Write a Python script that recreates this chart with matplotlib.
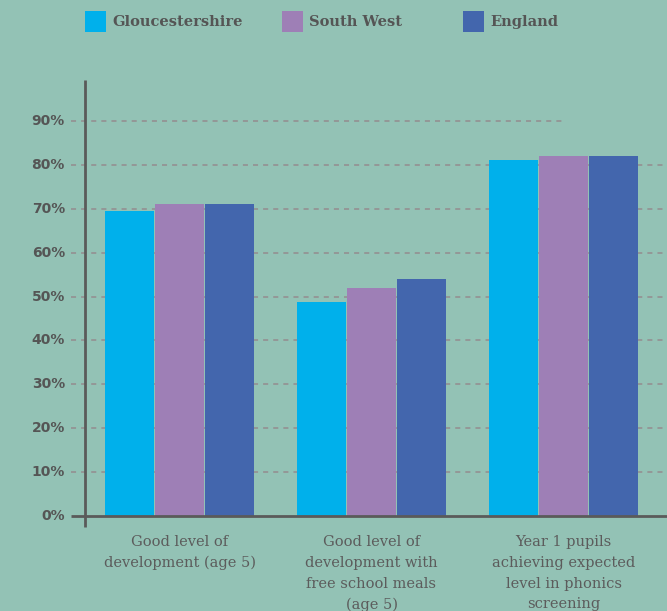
import matplotlib
matplotlib.use("Agg")
import matplotlib.pyplot as plt
from matplotlib.patches import Rectangle
import numpy as np

categories = ["Good level of\ndevelopment (age 5)",
              "Good level of\ndevelopment with\nfree school meals\n(age 5)",
              "Year 1 pupils\nachieving expected\nlevel in phonics\nscreening"]
series_names = ["Gloucestershire", "South West", "England"]
gloucestershire = [69.5, 48.7, 81]
south_west = [71, 52, 82]
england = [71, 54, 82]
yticks = [0, 10, 20, 30, 40, 50, 60, 70, 80, 90]
ytick_labels = [f"{v}%" for v in yticks]

colors = ["#00B0EB", "#9E7FB6", "#4366AD"]
bg = "#93C2B5"
textc = "#555555"
axc = "#5a5a5a"

W, H = 667, 611
fig = plt.figure(figsize=(W/100, H/100), dpi=100, facecolor=bg)
ax_left, ax_right, ax_bottom, ax_top = 85, 667, 516, 77
aw = ax_right - ax_left
ah = ax_bottom - ax_top
ax = fig.add_axes([ax_left/W, 1-ax_bottom/H, aw/W, ah/H])
ax.set_facecolor(bg)

x = np.arange(len(categories))
bw = 50/192
for i, (vals, c) in enumerate(zip([gloucestershire, south_west, england], colors)):
    ax.bar(x + (i-1)*bw, vals, width=bw*0.985, color=c, zorder=3, linewidth=0)

xmin = -(179.5-85)/192
xmax = xmin + aw/192
ax.set_xlim(xmin, xmax)
ax.set_ylim(0, 100)

for sp in ax.spines.values():
    sp.set_visible(False)
ax.set_xticks([])
ax.set_yticks([])

# gridlines (extend left of axis)
ext = -(85-71)/aw
for v in yticks[1:]:
    xe = 1.0 if v != 90 else (563-85)/aw
    ax.plot([ext, xe], [v, v], transform=ax.get_yaxis_transform(), color="#949494",
            lw=1.3, ls=(0, (2.8, 2.8)), zorder=1, clip_on=False)

for v, lab in zip(yticks, ytick_labels):
    ax.text(-(85-65)/aw, v, lab, transform=ax.get_yaxis_transform(),
            ha="right", va="center", fontsize=10, fontweight="bold", color=textc,
            family="DejaVu Sans")

# axis lines
ax.plot([ext, 1], [0, 0], transform=ax.get_yaxis_transform(), color=axc, lw=2,
        zorder=4, clip_on=False, solid_capstyle="butt")
ax.plot([0, 0], [-11/ah, 1-3/ah], transform=ax.transAxes,
        color=axc, lw=2, zorder=4, clip_on=False, solid_capstyle="butt")

# category labels
for xi, lab in zip(x, categories):
    ax.text(xi, -(535-516)/ah*100, lab, ha="center", va="top",
            fontsize=10.5, color="#5c5c5c", family="DejaVu Serif", linespacing=1.62,
            transform=ax.transData, clip_on=False)

# legend
leg = [(85, 112), (282, 309), (463, 490)]
for (sx, tx), name, c in zip(leg, series_names, colors):
    fig.patches.append(Rectangle((sx/W, 1-32/H), 21/W, 21/H, transform=fig.transFigure,
                                 facecolor=c, edgecolor="none"))
    fig.text(tx/W, 1-22/H, name, ha="left", va="center", fontsize=10.5,
             fontweight="bold", color=textc, family="DejaVu Serif")

fig.savefig("out.png", dpi=100, facecolor=bg)
